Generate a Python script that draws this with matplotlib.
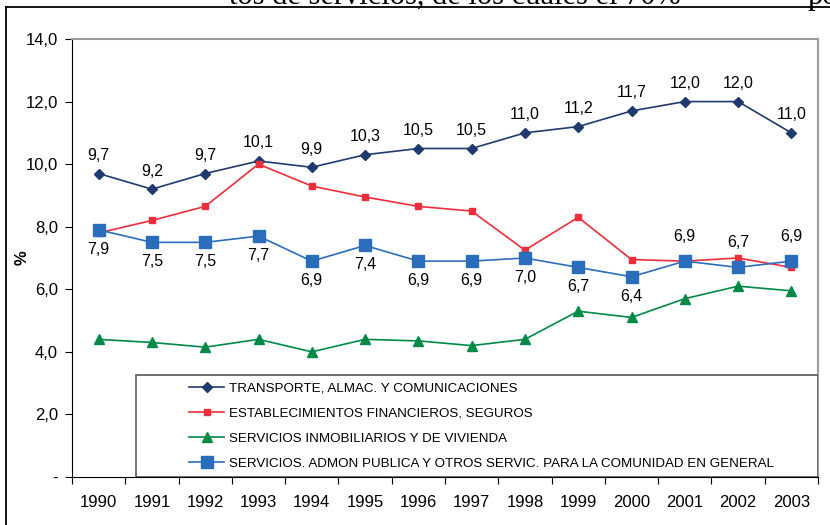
import numpy as np
import matplotlib.pyplot as plt
from matplotlib.patches import Rectangle

plt.rcParams['font.family'] = ['Liberation Sans', 'DejaVu Sans']

years = ['1990', '1991', '1992', '1993', '1994', '1995', '1996',
         '1997', '1998', '1999', '2000', '2001', '2002', '2003']

transporte = [9.7, 9.2, 9.7, 10.1, 9.9, 10.3, 10.5, 10.5, 11.0, 11.2, 11.7, 12.0, 12.0, 11.0]
financieros = [7.8, 8.2, 8.65, 10.0, 9.3, 8.95, 8.65, 8.5, 7.25, 8.3, 6.95, 6.9, 7.0, 6.7]
inmobiliarios = [4.4, 4.3, 4.15, 4.4, 4.0, 4.4, 4.35, 4.2, 4.4, 5.3, 5.1, 5.7, 6.1, 5.95]
admon = [7.9, 7.5, 7.5, 7.7, 6.9, 7.4, 6.9, 6.9, 7.0, 6.7, 6.4, 6.9, 6.7, 6.9]

names = ['TRANSPORTE, ALMAC. Y COMUNICACIONES',
         'ESTABLECIMIENTOS FINANCIEROS, SEGUROS',
         'SERVICIOS INMOBILIARIOS Y DE VIVIENDA',
         'SERVICIOS. ADMON PUBLICA Y OTROS SERVIC. PARA LA COMUNIDAD EN GENERAL']

c_tr = '#1f3a6e'
c_fin = '#ee2d3a'
c_inm = '#008a45'
c_adm = '#2a6ebb'

x = np.arange(len(years))

fig = plt.figure(figsize=(8.3, 5.25), dpi=100)
ax = fig.add_axes([72/830, 48/525, 746/830, 438/525])

ax.plot(x, transporte, color=c_tr, lw=1.2, marker='D', ms=5, label=names[0])
ax.plot(x, financieros, color=c_fin, lw=1.2, marker='s', ms=5, label=names[1])
ax.plot(x, inmobiliarios, color=c_inm, lw=1.2, marker='^', ms=7, label=names[2])
ax.plot(x, admon, color=c_adm, lw=1.2, marker='s', ms=9, label=names[3])

def fmt(v):
    return f'{v:.1f}'.replace('.', ',')

# value labels
for i, v in enumerate(transporte):
    ax.annotate(fmt(v), (i, v), xytext=(0, 13), textcoords='offset points',
                ha='center', va='center', fontsize=11.5)
for i, v in enumerate(admon):
    dy = 18 if i >= 11 else -14
    ax.annotate(fmt(v), (i, v), xytext=(0, dy), textcoords='offset points',
                ha='center', va='center', fontsize=11.5)

ax.set_xlim(-0.5, len(years) - 0.5)
ax.set_ylim(0, 14)
ax.set_yticks(np.arange(0, 15, 2))
ax.set_yticklabels(['-'] + [fmt(t) for t in np.arange(2, 15, 2)])
ax.set_xticks(np.arange(-0.5, len(years), 1))
ax.set_xticklabels([])
ax.set_xticks(x, minor=True)
ax.set_xticklabels(years, minor=True)
ax.tick_params(axis='x', which='major', length=5, direction='out')
ax.tick_params(axis='x', which='minor', length=0, pad=13, labelsize=12)
ax.tick_params(axis='y', length=5, labelsize=12, pad=5)
ax.set_ylabel('%', fontsize=12, fontweight='bold')
ax.yaxis.set_label_coords(-42/746, 0.5)

for s in ['top', 'right']:
    ax.spines[s].set_color('#9a9a9a')
    ax.spines[s].set_linewidth(1.5)

# legend box in the lower right of the plot area
ax.add_patch(Rectangle((64/746, 0), 1 - 64/746, 102/438, transform=ax.transAxes,
                       facecolor='white', edgecolor='#555555', lw=1.2, zorder=4))
leg = ax.legend(loc='upper left', bbox_to_anchor=(112/746, 100/438), frameon=False,
                fontsize=9.6, handlelength=2.6, handletextpad=0.4, labelspacing=0.95,
                borderaxespad=0)
leg.set_zorder(5)

# page frame and running text
fig.add_artist(plt.Line2D([6/830, 6/830], [0, 1 - 7/525], color='black', lw=1.3))
fig.add_artist(plt.Line2D([6/830, 1], [1 - 7/525, 1 - 7/525], color='black', lw=1.3))
fig.text(229/830, 1 - 4/525, 'tos de servicios, de los cuales el 70%',
         family='Liberation Serif', fontsize=22, va='baseline')
fig.text(808/830, 1 - 4/525, 'po', family='Liberation Serif', fontsize=22, va='baseline')

fig.savefig('out.png', dpi=100)
